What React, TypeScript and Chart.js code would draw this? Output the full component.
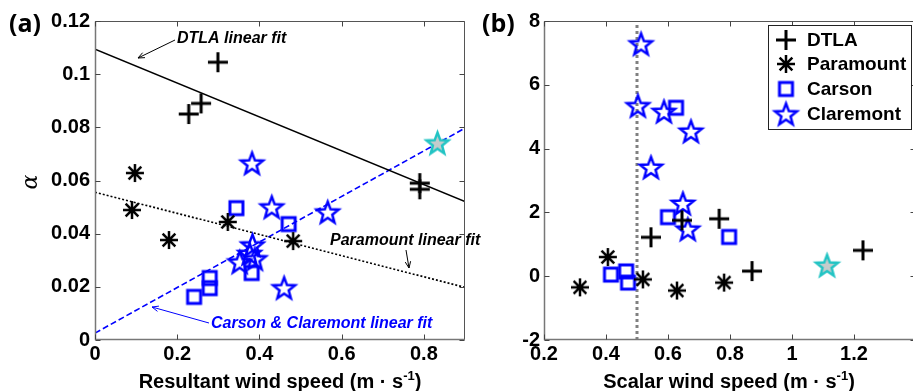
import React, { useEffect, useRef } from 'react';
import { Chart, registerables } from 'chart.js';
Chart.register(...registerables);

// ---------- data: panel (a) ----------
const dtlaAX = [0.299, 0.228, 0.258, 0.79, 0.79];
const dtlaAY = [0.1045, 0.085, 0.089, 0.059, 0.0567];
const paraAX = [0.097, 0.09, 0.18, 0.323, 0.482];
const paraAY = [0.0628, 0.0489, 0.0376, 0.0444, 0.0372];
const carsonAX = [0.344, 0.471, 0.241, 0.279, 0.279, 0.381];
const carsonAY = [0.0496, 0.0436, 0.0162, 0.0233, 0.0195, 0.0252];
const claremontAX = [0.382, 0.43, 0.566, 0.383, 0.352, 0.389, 0.376, 0.46];
const claremontAY = [0.0665, 0.05, 0.0481, 0.0357, 0.0293, 0.0305, 0.0325, 0.0196];
const cyanAX = [0.833];
const cyanAY = [0.0741];
const dtlaFitX = [0, 0.9];
const dtlaFitY = [0.1094, 0.0521];
const paraFitX = [0, 0.9];
const paraFitY = [0.0556, 0.0198];
const ccFitX = [0, 0.9];
const ccFitY = [0.0026, 0.0797];

// ---------- data: panel (b) ----------
const dtlaBX = [0.545, 0.645, 0.765, 0.871, 1.229];
const dtlaBY = [1.22, 1.75, 1.8, 0.16, 0.81];
const paraBX = [0.316, 0.406, 0.519, 0.629, 0.781];
const paraBY = [-0.35, 0.6, -0.1, -0.45, -0.2];
const carsonBX = [0.416, 0.465, 0.471, 0.6, 0.797, 0.626];
const carsonBY = [0.05, 0.15, -0.2, 1.85, 1.23, 5.28];
const claremontBX = [0.513, 0.503, 0.587, 0.674, 0.545, 0.648, 0.664];
const claremontBY = [7.28, 5.34, 5.16, 4.54, 3.41, 2.28, 1.47];
const cyanBX = [1.113];
const cyanBY = [0.34];
const thresholdX = [0.5, 0.5];
const thresholdY = [-2, 8];

const legendLabels = ['DTLA', 'Paramount', 'Carson', 'Claremont'];

const BLUE = '#0000ff';
const CYAN = '#22c4c4';
const SANS = '"Liberation Sans", Arial, sans-serif';

const pts = (xs: number[], ys: number[]) => xs.map((x, i) => ({ x, y: ys[i] }));

function makeMarker(kind: string, color: string, size: number, lw: number, fill?: string) {
  const s = Math.ceil(size + 8);
  const c = document.createElement('canvas');
  c.width = s;
  c.height = s;
  const ctx = c.getContext('2d') as CanvasRenderingContext2D;
  const m = s / 2;
  const r = size / 2;
  ctx.strokeStyle = color;
  ctx.lineWidth = lw;
  ctx.beginPath();
  if (kind === 'plus') {
    ctx.moveTo(m - r, m); ctx.lineTo(m + r, m);
    ctx.moveTo(m, m - r); ctx.lineTo(m, m + r);
  } else if (kind === 'asterisk') {
    for (let k = 0; k < 4; k++) {
      const a = (k * Math.PI) / 4;
      ctx.moveTo(m - r * Math.cos(a), m - r * Math.sin(a));
      ctx.lineTo(m + r * Math.cos(a), m + r * Math.sin(a));
    }
  } else if (kind === 'square') {
    ctx.rect(m - r, m - r, size, size);
  } else if (kind === 'star') {
    const ri = r * 0.42;
    for (let k = 0; k < 10; k++) {
      const a = -Math.PI / 2 + (k * Math.PI) / 5;
      const rr = k % 2 === 0 ? r : ri;
      const px = m + rr * Math.cos(a);
      const py = m + 1 + rr * Math.sin(a);
      if (k === 0) ctx.moveTo(px, py); else ctx.lineTo(px, py);
    }
    ctx.closePath();
    if (fill) { ctx.fillStyle = fill; ctx.fill(); }
  }
  ctx.stroke();
  return c;
}

function drawRich(ctx: CanvasRenderingContext2D, parts: { t: string; f: string; dy?: number }[], cx: number, y: number) {
  let w = 0;
  for (const p of parts) { ctx.font = p.f; w += ctx.measureText(p.t).width; }
  let x = cx - w / 2;
  ctx.textAlign = 'left';
  ctx.textBaseline = 'alphabetic';
  for (const p of parts) {
    ctx.font = p.f;
    ctx.fillText(p.t, x, y + (p.dy || 0));
    x += ctx.measureText(p.t).width;
  }
}

function arrow(ctx: CanvasRenderingContext2D, x1: number, y1: number, x2: number, y2: number, color: string) {
  ctx.save();
  ctx.strokeStyle = color;
  ctx.lineWidth = 1;
  ctx.beginPath();
  ctx.moveTo(x1, y1);
  ctx.lineTo(x2, y2);
  const a = Math.atan2(y2 - y1, x2 - x1);
  const h = 7;
  ctx.moveTo(x2 - h * Math.cos(a - 0.4), y2 - h * Math.sin(a - 0.4));
  ctx.lineTo(x2, y2);
  ctx.lineTo(x2 - h * Math.cos(a + 0.4), y2 - h * Math.sin(a + 0.4));
  ctx.stroke();
  ctx.restore();
}

function drawFrame(chart: any) {
  const ctx = chart.ctx as CanvasRenderingContext2D;
  const { left, right, top, bottom } = chart.chartArea;
  ctx.save();
  ctx.lineWidth = 1;
  ctx.strokeStyle = '#555';
  const L = Math.round(left) + 0.5, R = Math.round(right) - 0.5, T = Math.round(top) + 0.5, B = Math.round(bottom) - 0.5;
  ctx.beginPath();
  ctx.moveTo(L, T); ctx.lineTo(R, T); ctx.lineTo(R, B); ctx.lineTo(L, B); ctx.closePath();
  ctx.stroke();
  ctx.strokeStyle = '#777';
  ctx.lineWidth = 1.5;
  ctx.beginPath();
  ctx.moveTo(L, T); ctx.lineTo(L, B); ctx.lineTo(R, B);
  ctx.stroke();
  ctx.lineWidth = 1;
  ctx.strokeStyle = '#444';
  const tl = 5;
  ctx.beginPath();
  for (const t of chart.scales.x.ticks) {
    const px = Math.round(chart.scales.x.getPixelForValue(t.value)) + 0.5;
    ctx.moveTo(px, B); ctx.lineTo(px, B - tl);
    ctx.moveTo(px, T); ctx.lineTo(px, T + tl);
  }
  for (const t of chart.scales.y.ticks) {
    const py = Math.round(chart.scales.y.getPixelForValue(t.value)) + 0.5;
    ctx.moveTo(L, py); ctx.lineTo(L + tl, py);
    ctx.moveTo(R, py); ctx.lineTo(R - tl, py);
  }
  ctx.stroke();
  ctx.restore();
}

const tickFont = { family: SANS, size: 20, weight: 'bold' as const };
const fmt = (v: any) => String(+Number(v).toFixed(3));

export default function App() {
  const leftRef = useRef<HTMLCanvasElement>(null);
  const rightRef = useRef<HTMLCanvasElement>(null);

  useEffect(() => {
    const plusImg = makeMarker('plus', '#000', 20, 3);
    const astImg = makeMarker('asterisk', '#000', 18, 2.5);
    const sqImg = makeMarker('square', BLUE, 13, 3);
    const starImg = makeMarker('star', BLUE, 23, 2.5);
    const cyanImg = makeMarker('star', CYAN, 23, 2.5, '#c4cccc');

    const scatter = (data: any, img: any) => ({ data, pointStyle: img, pointRadius: 5, showLine: false });
    const line = (data: any, color: string, width: number, dash: number[]) => ({
      data, showLine: true, borderColor: color, borderWidth: width, borderDash: dash, pointRadius: 0, fill: false,
    });

    const plotFontTitle = `bold 20px ${SANS}`;
    const supFont = `bold 13px ${SANS}`;
    const annFont = `italic bold 16px ${SANS}`;

    const pluginA = {
      id: 'decorA',
      afterDraw(chart: any) {
        drawFrame(chart);
        const ctx = chart.ctx as CanvasRenderingContext2D;
        ctx.save();
        ctx.fillStyle = '#000';
        ctx.font = annFont;
        ctx.textAlign = 'left';
        ctx.textBaseline = 'alphabetic';
        ctx.fillText('DTLA linear fit', 177, 43);
        arrow(ctx, 175, 40, 138, 58, '#000');
        ctx.fillText('Paramount linear fit', 330, 245);
        arrow(ctx, 406, 250, 409, 268, '#000');
        ctx.fillStyle = BLUE;
        ctx.fillText('Carson & Claremont linear fit', 211, 328);
        arrow(ctx, 209, 323, 152, 307, BLUE);
        ctx.fillStyle = '#000';
        drawRich(ctx, [
          { t: 'Resultant wind speed (m · s', f: plotFontTitle },
          { t: '-1', f: supFont, dy: -8 },
          { t: ')', f: plotFontTitle },
        ], 280, 388);
        ctx.font = `bold 25px "Open Sans", ${SANS}`;
        ctx.fillText('(a)', 9, 32);
        ctx.translate(37, 182);
        ctx.rotate(-Math.PI / 2);
        ctx.textAlign = 'center';
        ctx.font = `italic 22px "DejaVu Serif", "Liberation Serif", serif`;
        ctx.fillText('α', 0, 0);
        ctx.restore();
      },
    };

    const pluginB = {
      id: 'decorB',
      afterDraw(chart: any) {
        drawFrame(chart);
        const ctx = chart.ctx as CanvasRenderingContext2D;
        ctx.save();
        ctx.fillStyle = '#000';
        drawRich(ctx, [
          { t: 'Scalar wind speed (m · s', f: plotFontTitle },
          { t: '-1', f: supFont, dy: -8 },
          { t: ')', f: plotFontTitle },
        ], 259, 388);
        ctx.font = `bold 25px "Open Sans", ${SANS}`;
        ctx.textAlign = 'left';
        ctx.fillText('(b)', 12, 32);
        // legend
        const lx = 298, ly = 25, lw = 143, lh = 104;
        ctx.fillStyle = '#fff';
        ctx.fillRect(lx, ly, lw, lh);
        ctx.strokeStyle = '#222';
        ctx.lineWidth = 1;
        ctx.strokeRect(lx + 0.5, ly + 0.5, lw, lh);
        const imgs = [plusImg, astImg, sqImg, starImg];
        const rows = [40, 64, 89, 114];
        ctx.fillStyle = '#000';
        ctx.font = `bold 19px ${SANS}`;
        ctx.textBaseline = 'middle';
        legendLabels.forEach((lab, i) => {
          const img = imgs[i];
          ctx.drawImage(img, 316 - img.width / 2, rows[i] - img.height / 2);
          ctx.fillText(lab, 337, rows[i] + 1);
        });
        // y label
        ctx.translate(512, 175);
        ctx.rotate(-Math.PI / 2);
        ctx.textBaseline = 'alphabetic';
        drawRich(ctx, [
          { t: 'β', f: `italic 22px "DejaVu Serif", "Liberation Serif", serif` },
          { t: ' (', f: `20px ${SANS}` },
          { t: '× ', f: `italic 16px ${SANS}` },
          { t: '10', f: `italic bold 20px ${SANS}` },
          { t: '-3', f: `italic bold 14px ${SANS}`, dy: -9 },
          { t: ')', f: `20px ${SANS}` },
        ], 0, 0);
        ctx.restore();
      },
    };

    const common = {
      responsive: false,
      animation: false as const,
      events: [] as any[],
      plugins: { legend: { display: false }, tooltip: { enabled: false } },
    };

    const a = new Chart(leftRef.current as HTMLCanvasElement, {
      type: 'scatter',
      data: {
        datasets: [
          scatter(pts(dtlaAX, dtlaAY), plusImg),
          scatter(pts(paraAX, paraAY), astImg),
          scatter(pts(carsonAX, carsonAY), sqImg),
          scatter(pts(claremontAX, claremontAY), starImg),
          scatter(pts(cyanAX, cyanAY), cyanImg),
          line(pts(dtlaFitX, dtlaFitY), '#000', 1.6, []),
          line(pts(paraFitX, paraFitY), '#000', 1.6, [2, 2]),
          line(pts(ccFitX, ccFitY), BLUE, 1.6, [6, 3]),
        ] as any,
      },
      options: {
        ...common,
        layout: { padding: { left: 0, top: 21, right: 25, bottom: 0 } },
        scales: {
          x: {
            type: 'linear', min: 0, max: 0.9,
            afterFit: (s: any) => { s.height = 51; },
            grid: { display: false, drawTicks: false },
            border: { display: false },
            ticks: { stepSize: 0.2, includeBounds: false, autoSkip: false, maxRotation: 0, minRotation: 0, color: '#000', font: tickFont, padding: 2, callback: fmt },
          },
          y: {
            type: 'linear', min: 0, max: 0.12,
            afterFit: (s: any) => { s.width = 95; },
            grid: { display: false, drawTicks: false },
            border: { display: false },
            ticks: { stepSize: 0.02, autoSkip: false, color: '#000', font: tickFont, padding: 5, callback: fmt },
          },
        },
      } as any,
      plugins: [pluginA],
    });

    const b = new Chart(rightRef.current as HTMLCanvasElement, {
      type: 'scatter',
      data: {
        datasets: [
          scatter(pts(dtlaBX, dtlaBY), plusImg),
          scatter(pts(paraBX, paraBY), astImg),
          scatter(pts(carsonBX, carsonBY), sqImg),
          scatter(pts(claremontBX, claremontBY), starImg),
          scatter(pts(cyanBX, cyanBY), cyanImg),
          line(pts(thresholdX, thresholdY), '#808080', 3, [3, 3]),
        ] as any,
      },
      options: {
        ...common,
        layout: { padding: { left: 0, top: 21, right: 14, bottom: 0 } },
        scales: {
          x: {
            type: 'linear', min: 0.2, max: 1.4,
            afterFit: (s: any) => { s.height = 51; },
            grid: { display: false, drawTicks: false },
            border: { display: false },
            ticks: { stepSize: 0.2, autoSkip: false, maxRotation: 0, minRotation: 0, color: '#000', font: tickFont, padding: 2, callback: (v: any) => (Number(v) > 1.3 ? '' : fmt(v)) },
          },
          y: {
            type: 'linear', min: -2, max: 8,
            afterFit: (s: any) => { s.width = 74; },
            grid: { display: false, drawTicks: false },
            border: { display: false },
            ticks: { stepSize: 2, autoSkip: false, color: '#000', font: tickFont, padding: 4, callback: fmt },
          },
        },
      } as any,
      plugins: [pluginB],
    });

    return () => { a.destroy(); b.destroy(); };
  }, []);

  return (
    <div style={{ position: 'fixed', left: 0, top: 0, width: 913, height: 391, overflow: 'hidden', background: '#fff' }}>
      <canvas ref={leftRef} width={490} height={391} style={{ position: 'absolute', left: 0, top: 0, width: 490, height: 391 }} />
      <canvas ref={rightRef} width={460} height={391} style={{ position: 'absolute', left: 470, top: 0, width: 460, height: 391 }} />
    </div>
  );
}
